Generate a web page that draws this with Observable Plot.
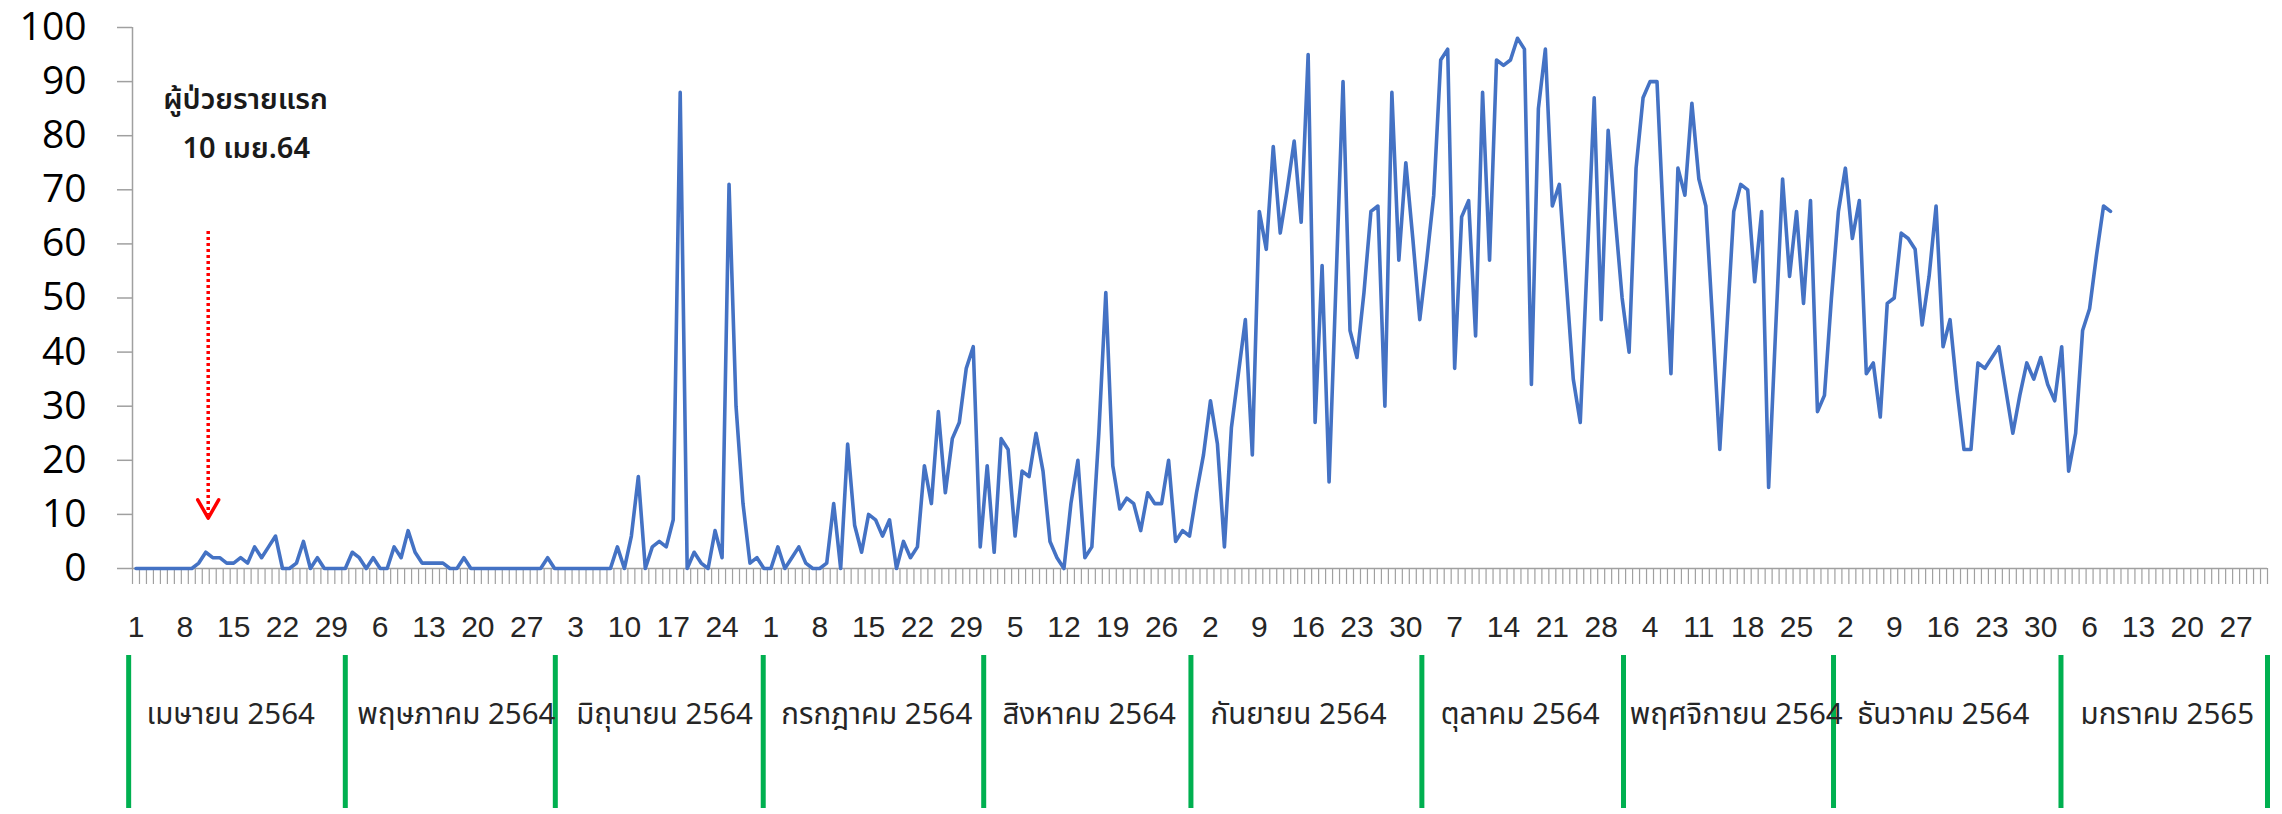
<!DOCTYPE html>
<html>
<head>
<meta charset="utf-8">
<script src="https://cdn.jsdelivr.net/npm/d3@7"></script>
<script src="https://cdn.jsdelivr.net/npm/@observablehq/plot@0.6"></script>
<style>
  html, body { margin: 0; padding: 0; background: #ffffff; }
  #chart { width: 2282px; }
  #chart svg { display: block; }
</style>
</head>
<body>
<div id="chart"></div>
<script>
// ---- Data (daily new cases from 1 Apr 2564 / 2021) ----
const dailyCases = [
  0,0,0,0,0,0,0,0,0,
  1,3,2,2,1,1,2,1,4,2,4,6,
  0,0,1,5,0,2,0,0,0,0,
  3,2,0,2,0,0,4,2,7,3,
  1,1,1,1,0,0,2,0,
  0,0,0,0,0,0,0,0,0,0,
  2,
  0,0,0,0,0,0,0,0,0,
  4,0,6,17,0,4,5,4,9,88,0,3,
  1,0,7,2,71,30,12,1,2,0,
  0,4,0,2,4,1,0,0,1,12,
  0,23,8,3,10,9,6,9,0,5,
  2,4,19,12,29,14,24,27,37,41,
  4,19,3,24,22,6,18,17,25,18,
  5,2,0,12,20,2,4,25,51,19,
  11,13,12,7,14,12,12,20,5,7,
  6,14,21,31,23,4,26,36,46,21,
  66,59,78,62,70,79,64,95,27,56,
  16,53,90,44,39,51,66,67,30,88,
  57,75,61,46,57,69,94,96,37,65,
  68,43,88,57,94,93,94,98,96,34,
  85,96,67,71,53,35,27,57,87,46,
  81,65,50,40,74,87,90,90,62,36,
  74,69,86,72,67,45,22,44,66,71,
  70,53,66,15,44,72,54,66,49,68,
  29,32,50,66,74,61,68,36,38,28,
  49,50,62,61,59,45,54,67,41,46,
  33,22,22,38,37,39,41,33,25,32,
  38,35,39,34,31,41,18,25,44,48,
  58,67,66
];

// weekly tick labels (day of month), one every 7 days from 1 Apr
const tickLabels = ["1","8","15","22","29","6","13","20","27","3","10","17","24",
  "1","8","15","22","29","5","12","19","26","2","9","16","23","30",
  "7","14","21","28","4","11","18","25","2","9","16","23","30",
  "6","13","20","27"];

const monthLabels = ["เมษายน 2564","พฤษภาคม 2564","มิถุนายน 2564","กรกฎาคม 2564",
  "สิงหาคม 2564","กันยายน 2564","ตุลาคม 2564","พฤศจิกายน 2564","ธันวาคม 2564","มกราคม 2565"];

// hand-drawn month separators and label starts, in days from 1 Apr (as placed in the picture)
const separatorDays = [-0.55, 30.5, 60.6, 90.4, 122.0, 151.7, 184.8, 213.7, 243.8, 276.4, 306];
const monthLabelDays = [2.0, 32.2, 63.6, 93.0, 124.7, 154.5, 187.5, 214.6, 247.2, 279.2];

const yTicks = [0,10,20,30,40,50,60,70,80,90,100];

const annotationTexts = ["ผู้ป่วยรายแรก", "10 เมย.64"];

// ---- helpers ----
const dayStart = i => new Date(Date.UTC(2021, 3, 1 + i));
const dayMid = i => new Date(Date.UTC(2021, 3, 1 + i, 12));
const xStart = dayStart(0);
const xEnd = new Date(Date.UTC(2022, 1, 1));
const nDays = Math.round((xEnd - xStart) / 864e5);
const atDay = d => new Date(+xStart + d * 864e5);

const series = dailyCases.map((v, i) => ({date: dayMid(i), value: v}));
const boundaries = d3.range(nDays + 1).map(dayStart);
const weekLabels = tickLabels.map((t, k) => ({date: dayMid(7 * k), text: t}));
const separators = separatorDays.map(atDay);
const months = monthLabels.map((t, m) => ({date: atDay(monthLabelDays[m]), text: t}));

// annotation placement (day offset from 1 Apr, value on y scale)
const annot = [
  {day: 16.2, value: 86.6, text: annotationTexts[0]},
  {day: 16.3, value: 77.6, text: annotationTexts[1]}
];
const arrowDay = 10.85;
const arrowTop = 62.3, arrowTip = 9.3;

const W = 2282;
const gray = "#a0a0a0";
const blue = "#4472C4";
const red = "#ff0000";
const latin = "'Liberation Sans', Arial, sans-serif";
const thai = "'Noto Sans Thai', 'Noto Sans Thai UI', 'Leelawadee UI', Tahoma, 'Liberation Sans', sans-serif";

const xScale = {type: "utc", domain: [xStart, xEnd]};

const main = Plot.plot({
  width: W,
  height: 650,
  marginLeft: 132,
  marginRight: 15,
  marginTop: 27,
  marginBottom: 82,
  x: xScale,
  y: {domain: [0, 100]},
  style: {background: "#ffffff", fontFamily: latin, overflow: "visible"},
  marks: [
    Plot.ruleY([0], {stroke: gray, strokeWidth: 1.5}),
    Plot.ruleX([xStart], {y1: 0, y2: 100, stroke: gray, strokeWidth: 1.5}),
    Plot.axisY(yTicks, {anchor: "left", label: null, tickSize: 15, tickPadding: 31, fontSize: 39,
      stroke: gray, strokeWidth: 1.5, fill: "#000000", fontFamily: "'Open Sans', " + latin}),
    Plot.axisX(boundaries, {anchor: "bottom", label: null, tickSize: 16, tickFormat: () => "",
      stroke: gray, strokeWidth: 1.2}),
    Plot.text(weekLabels, {x: "date", text: "text", frameAnchor: "bottom", dy: 59, fontSize: 30, fill: "#262626", lineAnchor: "middle"}),
    Plot.line(series, {x: "date", y: "value", stroke: blue, strokeWidth: 3.6, strokeLinejoin: "round"}),
    Plot.ruleX([atDay(arrowDay)], {y1: arrowTop, y2: arrowTip + 0.6, stroke: red, strokeWidth: 3.5, strokeDasharray: "3,3"}),
    Plot.line([
      {x: atDay(arrowDay - 1.5), y: arrowTip + 3.4},
      {x: atDay(arrowDay), y: arrowTip},
      {x: atDay(arrowDay + 1.5), y: arrowTip + 3.4}
    ], {x: "x", y: "y", stroke: red, strokeWidth: 3.5}),
    Plot.text(annot, {x: d => atDay(d.day), y: "value", text: "text", fontSize: 29, fontWeight: 600, fill: "#1a1a1a", fontFamily: thai, lineAnchor: "middle"})
  ]
});

const band = Plot.plot({
  width: W,
  height: 164,
  marginLeft: 132,
  marginRight: 15,
  marginTop: 5,
  marginBottom: 6,
  x: {...xScale, axis: null},
  style: {background: "#ffffff", fontFamily: thai, overflow: "visible"},
  marks: [
    Plot.ruleX(separators, {stroke: "#00B050", strokeWidth: 5}),
    Plot.text(months, {x: "date", text: "text", textAnchor: "start", dy: -17, frameAnchor: "middle", fontSize: 29.5, fill: "#262626", lineAnchor: "middle"})
  ]
});

const root = document.getElementById("chart");
root.appendChild(main);
root.appendChild(band);
</script>
</body>
</html>
